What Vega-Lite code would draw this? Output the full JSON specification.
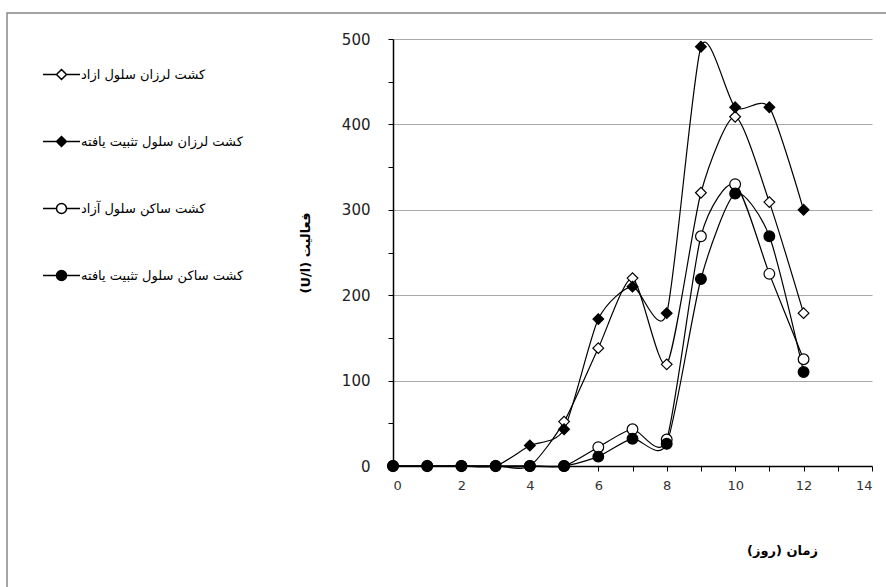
{
  "$schema": "https://vega.github.io/schema/vega-lite/v6.json",
  "width": 885,
  "height": 580,
  "autosize": "none",
  "padding": {"left": 7, "top": 13, "right": 0, "bottom": 0},
  "background": "white",
  "config": {
    "view": {"stroke": "#888888", "strokeWidth": 1.5},
    "font": "DejaVu Sans",
    "legend": {
      "orient": "none",
      "legendX": 48,
      "legendY": 55,
      "padding": 0,
      "rowPadding": 50,
      "symbolSize": 100,
      "labelOffset": 13,
      "labelFont": "DejaVu Sans",
      "labelFontSize": 13,
      "labelColor": "black",
      "labelLimit": 300,
      "symbolOpacity": 1
    }
  },
  "data": {
    "values": [
      {"series": "کشت لرزان سلول ازاد", "day": 0, "activity": 0},
      {"series": "کشت لرزان سلول ازاد", "day": 1, "activity": 0},
      {"series": "کشت لرزان سلول ازاد", "day": 2, "activity": 0},
      {"series": "کشت لرزان سلول ازاد", "day": 3, "activity": 0},
      {"series": "کشت لرزان سلول ازاد", "day": 4, "activity": 0},
      {"series": "کشت لرزان سلول ازاد", "day": 5, "activity": 52},
      {"series": "کشت لرزان سلول ازاد", "day": 6, "activity": 138},
      {"series": "کشت لرزان سلول ازاد", "day": 7, "activity": 220},
      {"series": "کشت لرزان سلول ازاد", "day": 8, "activity": 119},
      {"series": "کشت لرزان سلول ازاد", "day": 9, "activity": 320},
      {"series": "کشت لرزان سلول ازاد", "day": 10, "activity": 409},
      {"series": "کشت لرزان سلول ازاد", "day": 11, "activity": 309},
      {"series": "کشت لرزان سلول ازاد", "day": 12, "activity": 179},
      {"series": "کشت لرزان سلول تثبیت یافته", "day": 0, "activity": 0},
      {"series": "کشت لرزان سلول تثبیت یافته", "day": 1, "activity": 0},
      {"series": "کشت لرزان سلول تثبیت یافته", "day": 2, "activity": 0},
      {"series": "کشت لرزان سلول تثبیت یافته", "day": 3, "activity": 0},
      {"series": "کشت لرزان سلول تثبیت یافته", "day": 4, "activity": 24},
      {"series": "کشت لرزان سلول تثبیت یافته", "day": 5, "activity": 43},
      {"series": "کشت لرزان سلول تثبیت یافته", "day": 6, "activity": 172},
      {"series": "کشت لرزان سلول تثبیت یافته", "day": 7, "activity": 210},
      {"series": "کشت لرزان سلول تثبیت یافته", "day": 8, "activity": 179},
      {"series": "کشت لرزان سلول تثبیت یافته", "day": 9, "activity": 491},
      {"series": "کشت لرزان سلول تثبیت یافته", "day": 10, "activity": 420},
      {"series": "کشت لرزان سلول تثبیت یافته", "day": 11, "activity": 420},
      {"series": "کشت لرزان سلول تثبیت یافته", "day": 12, "activity": 300},
      {"series": "کشت ساکن سلول آزاد", "day": 0, "activity": 0},
      {"series": "کشت ساکن سلول آزاد", "day": 1, "activity": 0},
      {"series": "کشت ساکن سلول آزاد", "day": 2, "activity": 0},
      {"series": "کشت ساکن سلول آزاد", "day": 3, "activity": 0},
      {"series": "کشت ساکن سلول آزاد", "day": 4, "activity": 0},
      {"series": "کشت ساکن سلول آزاد", "day": 5, "activity": 0},
      {"series": "کشت ساکن سلول آزاد", "day": 6, "activity": 22},
      {"series": "کشت ساکن سلول آزاد", "day": 7, "activity": 43},
      {"series": "کشت ساکن سلول آزاد", "day": 8, "activity": 31},
      {"series": "کشت ساکن سلول آزاد", "day": 9, "activity": 269},
      {"series": "کشت ساکن سلول آزاد", "day": 10, "activity": 330},
      {"series": "کشت ساکن سلول آزاد", "day": 11, "activity": 225},
      {"series": "کشت ساکن سلول آزاد", "day": 12, "activity": 125},
      {"series": "کشت ساکن سلول تثبیت یافته", "day": 0, "activity": 0},
      {"series": "کشت ساکن سلول تثبیت یافته", "day": 1, "activity": 0},
      {"series": "کشت ساکن سلول تثبیت یافته", "day": 2, "activity": 0},
      {"series": "کشت ساکن سلول تثبیت یافته", "day": 3, "activity": 0},
      {"series": "کشت ساکن سلول تثبیت یافته", "day": 4, "activity": 0},
      {"series": "کشت ساکن سلول تثبیت یافته", "day": 5, "activity": 0},
      {"series": "کشت ساکن سلول تثبیت یافته", "day": 6, "activity": 11},
      {"series": "کشت ساکن سلول تثبیت یافته", "day": 7, "activity": 32},
      {"series": "کشت ساکن سلول تثبیت یافته", "day": 8, "activity": 26},
      {"series": "کشت ساکن سلول تثبیت یافته", "day": 9, "activity": 219},
      {"series": "کشت ساکن سلول تثبیت یافته", "day": 10, "activity": 319},
      {"series": "کشت ساکن سلول تثبیت یافته", "day": 11, "activity": 269},
      {"series": "کشت ساکن سلول تثبیت یافته", "day": 12, "activity": 110}
    ]
  },
  "encoding": {
    "x": {
      "field": "day",
      "type": "quantitative",
      "scale": {"domain": [0, 14], "range": [386, 865], "nice": false, "zero": false},
      "axis": {
        "offset": -127,
        "values": [0, 1, 2, 3, 4, 5, 6, 7, 8, 9, 10, 11, 12, 13, 14],
        "labelExpr": "datum.value % 2 === 0 ? datum.label : ''",
        "grid": false,
        "domainColor": "black",
        "domainWidth": 1.5,
        "tickColor": "black",
        "tickSize": 5,
        "labelFontSize": 13,
        "labelColor": "#333333",
        "labelPadding": 8,
        "title": "زمان (روز)",
        "titleFontSize": 13,
        "titleFontWeight": "bold",
        "titleColor": "black",
        "titleX": 775,
        "titleY": 84,
        "titleAlign": "center",
        "titleBaseline": "middle"
      }
    },
    "y": {
      "field": "activity",
      "type": "quantitative",
      "scale": {"domain": [0, 500], "range": [453, 26], "nice": false},
      "axis": {
        "offset": -386,
        "values": [0, 50, 100, 150, 200, 250, 300, 350, 400, 450, 500],
        "labelExpr": "datum.value % 100 === 0 ? datum.label : ''",
        "grid": true,
        "gridColor": "#aaaaaa",
        "gridWidth": 1,
        "gridOpacity": {"condition": {"test": "datum.value % 100 === 0 && datum.value > 0", "value": 1}, "value": 0},
        "domainColor": "black",
        "domainWidth": 1.5,
        "tickColor": "black",
        "tickSize": 5,
        "labelFontSize": 15,
        "labelColor": "#222222",
        "labelPadding": 18,
        "title": "(U/l) فعالیت",
        "titleFontSize": 13,
        "titleFontWeight": "bold",
        "titleColor": "black",
        "titleX": -88,
        "titleAngle": -90,
        "titleAlign": "center",
        "titleBaseline": "middle"
      }
    },
    "fill": {
      "field": "series",
      "type": "nominal",
      "scale": {
        "domain": ["کشت لرزان سلول ازاد", "کشت لرزان سلول تثبیت یافته", "کشت ساکن سلول آزاد", "کشت ساکن سلول تثبیت یافته"],
        "range": ["white", "black", "white", "black"]
      },
      "legend": {
        "title": null,
        "symbolType": {"expr": "datum.index < 2 ? 'M-3.7,0H-1M1,0H3.7M0,-1L1,0L0,1L-1,0Z' : 'M-3.7,0H-1M1,0H3.7M-1,0A1,1 0 1,0 1,0A1,1 0 1,0 -1,0Z'"},
        "encode": {
          "symbols": {
            "stroke": {"value": "black"},
            "strokeWidth": {"value": 1.2},
            "opacity": {"value": 1}
          }
        }
      }
    }
  },
  "layer": [
    {
      "mark": {"type": "line", "interpolate": "cardinal", "tension": 0.3, "stroke": "black", "strokeWidth": 1.2, "fill": null},
      "encoding": {"detail": {"field": "series"}, "fill": null}
    },
    {
      "transform": [{"filter": {"field": "series", "oneOf": ["کشت لرزان سلول ازاد", "کشت لرزان سلول تثبیت یافته"]}}],
      "mark": {"type": "point", "shape": "diamond", "filled": true, "stroke": "black", "strokeWidth": 1.2, "opacity": 1, "size": 115}
    },
    {
      "transform": [{"filter": {"field": "series", "oneOf": ["کشت ساکن سلول آزاد", "کشت ساکن سلول تثبیت یافته"]}}],
      "mark": {"type": "point", "shape": "circle", "filled": true, "stroke": "black", "strokeWidth": 1.2, "opacity": 1, "size": 115}
    }
  ]
}
